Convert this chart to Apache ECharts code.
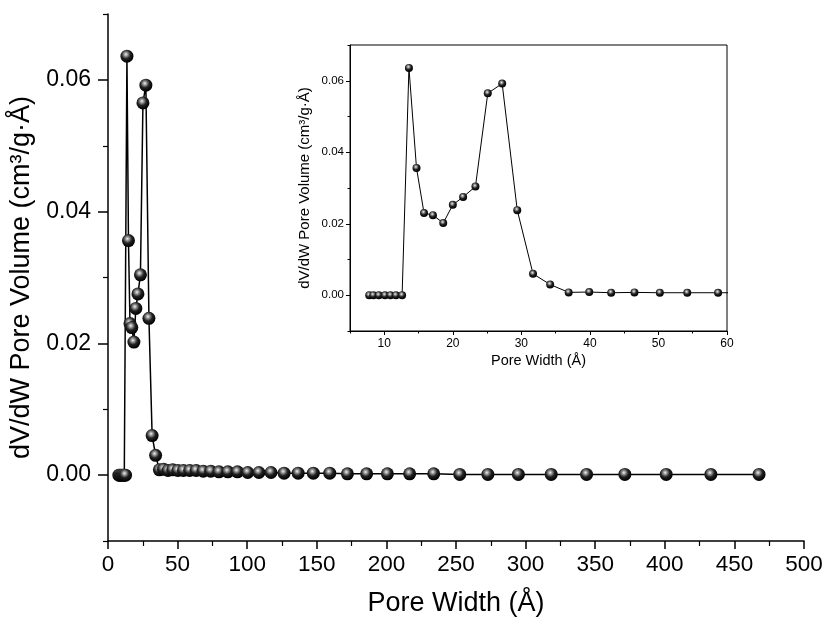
<!DOCTYPE html>
<html>
<head>
<meta charset="utf-8">
<script src="https://cdn.jsdelivr.net/npm/echarts@6/dist/echarts.min.js"></script>
<style>
  html, body { margin: 0; padding: 0; background: #fff; }
  #chart { width: 823px; height: 622px; }
</style>
</head>
<body>
<div id="chart"></div>
<script>
// pore widths (Å) and dV/dW pore volume (cm3/g·Å)
var poreWidth = [7.8, 8.4, 9.2, 10.1, 10.9, 11.7, 12.6, 13.6, 14.7, 15.8, 17.1, 18.6, 20.0, 21.5,
  23.3, 25.1, 27.2, 29.4, 31.7, 34.2, 36.9, 39.9, 43.1, 46.5, 50.2, 54.2, 58.7, 63.3, 68.4, 73.8,
  79.7, 86.1, 93.0, 100.4, 108.4, 117.1, 126.5, 136.6, 147.5, 159.3, 172.0, 185.8, 200.7, 216.7,
  234.0, 252.7, 272.9, 294.8, 318.4, 343.8, 371.3, 401.0, 433.1, 467.7];
var poreVolume = [0, 0, 0, 0, 0, 0, 0, 0.0636, 0.0356, 0.0230, 0.0224, 0.0202, 0.0253, 0.0275,
  0.0304, 0.0565, 0.0592, 0.0238, 0.0060, 0.0030, 0.0008, 0.0009, 0.0007, 0.0008, 0.0007, 0.0007,
  0.0007, 0.0007, 0.0006, 0.0006, 0.0005, 0.0005, 0.0005, 0.0004, 0.0004, 0.0004, 0.0003, 0.0003,
  0.0003, 0.0003, 0.0002, 0.0002, 0.0002, 0.0002, 0.0002, 0.0001, 0.0001, 0.0001, 0.0001, 0.0001,
  0.0001, 0.0001, 0.0001, 0.0001];

var yMajor = [0, 0.02, 0.04, 0.06];
var yMinor = [-0.01, 0.01, 0.03, 0.05, 0.07];
var insetXMajor = [10, 20, 30, 40, 50, 60];
var insetXMinor = [5, 15, 25, 35, 45, 55];

var points = poreWidth.map(function (w, i) { return [w, poreVolume[i]]; });

var chart = echarts.init(document.getElementById('chart'));
var font = '"Liberation Sans", Arial, sans-serif';
var ink = '#000';

var sphere = {
  type: 'radial', x: 0.42, y: 0.36, r: 0.62,
  colorStops: [
    { offset: 0, color: '#f2f2f2' },
    { offset: 0.22, color: '#9a9a9a' },
    { offset: 0.55, color: '#222' },
    { offset: 1, color: '#000' }
  ]
};

function fmt(v) { return (Math.abs(v) < 1e-9 ? 0 : v).toFixed(2); }

var option = {
  animation: false,
  backgroundColor: '#fff',
  textStyle: { fontFamily: font },
  grid: [
    { left: 108, right: 19, top: 14, bottom: 81, outerBoundsMode: 'none' },
    { left: 350, right: 96, top: 45, bottom: 291, outerBoundsMode: 'none',
      show: true, borderColor: ink, borderWidth: 1, backgroundColor: 'transparent' }
  ],
  xAxis: [
    {
      gridIndex: 0, type: 'value', min: 0, max: 500, interval: 50,
      name: 'Pore Width (Å)', nameLocation: 'middle', nameGap: 49,
      nameTextStyle: { fontSize: 27, color: ink, fontFamily: font },
      axisLine: { onZero: false, lineStyle: { color: ink, width: 1.5 } },
      axisTick: { inside: false, length: 8, lineStyle: { color: ink, width: 1.5 } },
      minorTick: { show: true, splitNumber: 2, length: 5, lineStyle: { color: ink, width: 1.2 } },
      axisLabel: { fontSize: 22.5, color: ink, margin: 12, fontFamily: font },
      splitLine: { show: false }
    },
    {
      gridIndex: 1, type: 'value', min: 5, max: 60, interval: 5, position: 'bottom',
      name: 'Pore Width (Å)', nameLocation: 'middle', nameGap: 22,
      nameTextStyle: { fontSize: 14.5, color: ink, fontFamily: font },
      axisLine: { onZero: false, lineStyle: { color: ink, width: 1 } },
      axisTick: { length: 4, customValues: insetXMajor, lineStyle: { color: ink } },
      axisLabel: { fontSize: 12, color: ink, margin: 7, customValues: insetXMajor, fontFamily: font },
      splitLine: { show: false }
    },
    {
      gridIndex: 1, type: 'value', min: 5, max: 60, interval: 5, position: 'bottom',
      axisLine: { show: false, onZero: false },
      axisTick: { length: 2.5, customValues: insetXMinor, lineStyle: { color: ink } },
      axisLabel: { show: false },
      splitLine: { show: false }
    }
  ],
  yAxis: [
    {
      gridIndex: 0, type: 'value', min: -0.01, max: 0.07, interval: 0.01, position: 'left',
      name: 'dV/dW Pore Volume (cm³/g·Å)', nameLocation: 'middle', nameGap: 63,
      nameTextStyle: { fontSize: 27, color: ink, fontFamily: font },
      axisLine: { show: true, onZero: false, lineStyle: { color: ink, width: 1.5 } },
      axisTick: { show: true, length: 10, customValues: yMajor, lineStyle: { color: ink, width: 1.5 } },
      axisLabel: { fontSize: 23, color: ink, margin: 17, customValues: yMajor, formatter: fmt, fontFamily: font },
      splitLine: { show: false }
    },
    {
      gridIndex: 0, type: 'value', min: -0.01, max: 0.07, interval: 0.01, position: 'left',
      axisLine: { show: false, onZero: false },
      axisTick: { show: true, length: 5, customValues: yMinor, lineStyle: { color: ink, width: 1.2 } },
      axisLabel: { show: false },
      splitLine: { show: false }
    },
    {
      gridIndex: 1, type: 'value', min: -0.01, max: 0.07, interval: 0.01, position: 'left',
      name: 'dV/dW Pore Volume (cm³/g·Å)', nameLocation: 'middle', nameGap: 38,
      nameTextStyle: { fontSize: 15, color: ink, fontFamily: font },
      axisLine: { show: true, onZero: false, lineStyle: { color: ink, width: 1 } },
      axisTick: { show: true, length: 4, customValues: yMajor, lineStyle: { color: ink } },
      axisLabel: { fontSize: 11.5, color: ink, margin: 6, customValues: yMajor, formatter: fmt, fontFamily: font },
      splitLine: { show: false }
    },
    {
      gridIndex: 1, type: 'value', min: -0.01, max: 0.07, interval: 0.01, position: 'left',
      axisLine: { show: false, onZero: false },
      axisTick: { show: true, length: 2.5, customValues: yMinor, lineStyle: { color: ink } },
      axisLabel: { show: false },
      splitLine: { show: false }
    }
  ],
  series: [
    {
      type: 'line', xAxisIndex: 0, yAxisIndex: 0, data: points,
      symbol: 'circle', symbolSize: 13, showAllSymbol: true,
      lineStyle: { color: ink, width: 1.5 },
      itemStyle: { color: sphere, borderWidth: 0 }
    },
    {
      type: 'line', xAxisIndex: 1, yAxisIndex: 2, data: points,
      symbol: 'circle', symbolSize: 8, showAllSymbol: true, clip: true,
      lineStyle: { color: ink, width: 1 },
      itemStyle: { color: sphere, borderWidth: 0 }
    }
  ]
};

chart.setOption(option);
</script>
</body>
</html>
